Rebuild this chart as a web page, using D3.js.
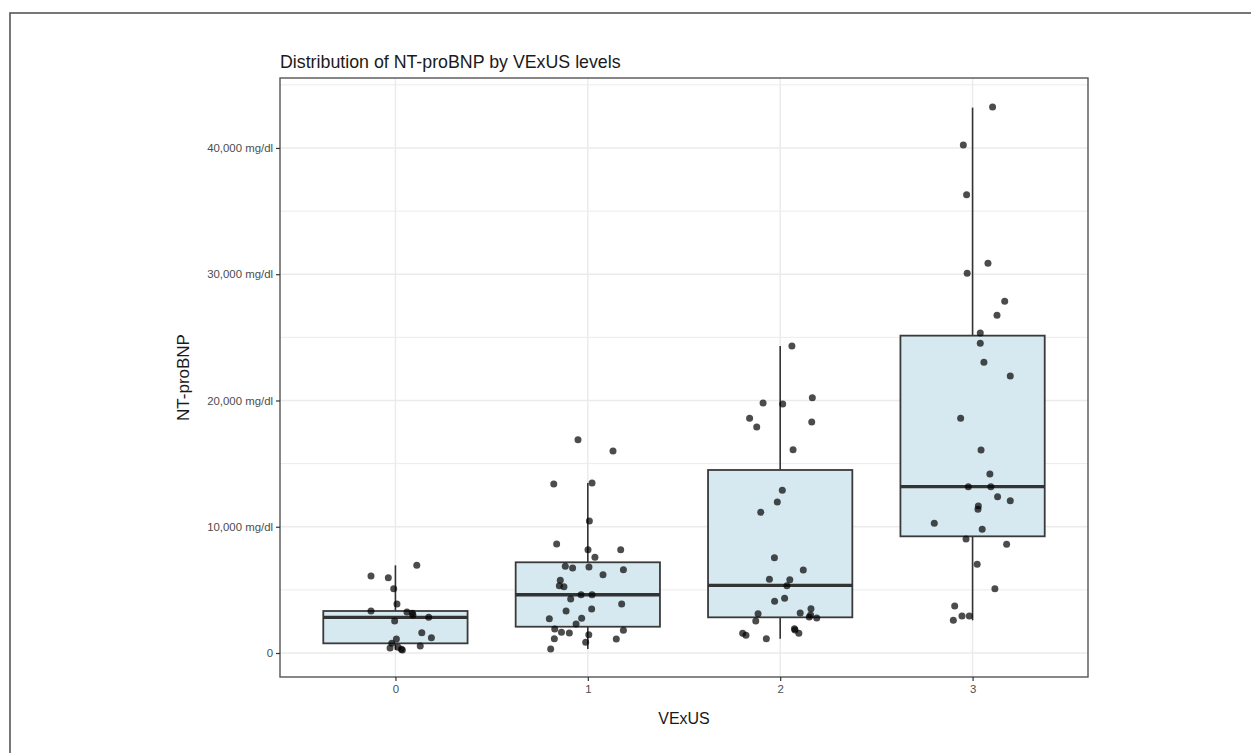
<!DOCTYPE html>
<html>
<head>
<meta charset="utf-8">
<script src="https://cdn.jsdelivr.net/npm/d3@7"></script>
<style>
  html, body { margin: 0; padding: 0; background: #ffffff; }
  svg { display: block; }
  text { font-family: "Liberation Sans", Arial, sans-serif; }
</style>
</head>
<body>
<svg id="chart" width="1251" height="753"></svg>
<script>
// ---------------- DATA ----------------
const categories = ["0", "1", "2", "3"];
const titleText = "Distribution of NT-proBNP by VExUS levels";
const xTitle = "VExUS";
const yTitle = "NT-proBNP";

const yTickValues = [0, 10000, 20000, 30000, 40000];
const yTickLabels = ["0", "10,000 mg/dl", "20,000 mg/dl", "30,000 mg/dl", "40,000 mg/dl"];
const yMinorValues = [5000, 15000, 25000, 35000, 45000];

// box statistics per category
const boxQ1 = [766, 2083, 2826, 9241];
const boxMedian = [2826, 4620, 5360, 13175];
const boxQ3 = [3327, 7184, 14495, 25135];
const whiskerLow = [238, 317, 1135, 2590];
const whiskerHigh = [6946, 13465, 24317, 43193];

// jittered observations: values and horizontal jitter (in category units)
const vexus0Values = [6946, 6099, 5966, 5095, 3881, 3327, 3248, 3144, 3010, 2826, 2535, 1610, 1214, 1109, 766, 396, 449, 290, 238, 554];
const vexus0Jitter = [0.111, -0.127, -0.037, -0.009, 0.008, -0.127, 0.060, 0.088, 0.091, 0.173, -0.004, 0.137, 0.187, 0.005, -0.019, -0.028, 0.014, 0.031, 0.036, 0.129];

const vexus1Values = [16895, 16000, 13386, 13465, 10455, 8634, 8185, 8185, 7578, 6867, 6733, 6812, 6600, 6204, 5758, 5333, 5254, 4620, 4620, 4277, 3881, 3327, 3485, 2719, 2746, 2297, 1901, 1637, 1584, 1795, 1452, 1135, 1109, 845, 317];
const vexus1Jitter = [-0.051, 0.131, -0.177, 0.022, 0.008, -0.162, 0.001, 0.171, 0.037, -0.117, -0.079, 0.006, 0.185, 0.079, -0.143, -0.148, -0.124, -0.035, 0.022, -0.089, 0.176, -0.113, 0.020, -0.200, -0.032, -0.061, -0.172, -0.137, -0.096, 0.185, 0.005, -0.174, 0.148, -0.011, -0.193];

const vexus2Values = [24317, 20222, 19802, 19723, 18590, 18297, 17901, 16103, 12887, 11960, 11144, 7548, 6574, 5834, 5808, 5333, 4330, 4095, 3511, 3116, 3168, 2851, 3010, 2772, 2535, 1558, 1400, 1927, 1822, 1558, 1135];
const vexus2Jitter = [0.061, 0.167, -0.089, 0.013, -0.159, 0.164, -0.122, 0.067, 0.011, -0.015, -0.101, -0.030, 0.120, -0.056, 0.050, 0.035, 0.023, -0.029, 0.160, -0.115, 0.104, 0.151, 0.158, 0.190, -0.127, -0.195, -0.178, 0.074, 0.077, 0.097, -0.072];

const vexus3Values = [43248, 40238, 36301, 30867, 30075, 27857, 26748, 25347, 24531, 23026, 21941, 18590, 16079, 14178, 13175, 13175, 12380, 12063, 11644, 11380, 10273, 9798, 9030, 8610, 7026, 5093, 3723, 2931, 2931, 2590];
const vexus3Jitter = [0.104, -0.048, -0.031, 0.080, -0.028, 0.167, 0.127, 0.040, 0.040, 0.059, 0.196, -0.062, 0.044, 0.090, -0.022, 0.095, 0.130, 0.196, 0.030, 0.028, -0.199, 0.050, -0.034, 0.177, 0.024, 0.116, -0.093, -0.055, -0.017, -0.100];

const groupValues = [vexus0Values, vexus1Values, vexus2Values, vexus3Values];
const groupJitter = [vexus0Jitter, vexus1Jitter, vexus2Jitter, vexus3Jitter];

// ---------------- LAYOUT ----------------
const svg = d3.select("#chart");
const panel = { left: 280, top: 78, right: 1088, bottom: 677 };

// outer frame (cut by the picture edges)
svg.append("rect")
  .attr("x", 10).attr("y", 13)
  .attr("width", 1400).attr("height", 900)
  .attr("fill", "none").attr("stroke", "#555").attr("stroke-width", 1.6);

const x = d3.scalePoint().domain(categories).range([panel.left, panel.right]).padding(0.6);
const step = x.step();
const y = d3.scaleLinear().domain([-1900, 45540]).range([panel.bottom, panel.top]);

const grid = svg.append("g");
grid.selectAll("line.minor").data(yMinorValues).join("line")
  .attr("class", "minor")
  .attr("x1", panel.left).attr("x2", panel.right)
  .attr("y1", d => y(d)).attr("y2", d => y(d))
  .attr("stroke", "#ebebeb").attr("stroke-width", 1);
grid.selectAll("line.majorY").data(yTickValues).join("line")
  .attr("class", "majorY")
  .attr("x1", panel.left).attr("x2", panel.right)
  .attr("y1", d => y(d)).attr("y2", d => y(d))
  .attr("stroke", "#ebebeb").attr("stroke-width", 1.5);
grid.selectAll("line.majorX").data(categories).join("line")
  .attr("class", "majorX")
  .attr("x1", d => x(d)).attr("x2", d => x(d))
  .attr("y1", panel.top).attr("y2", panel.bottom)
  .attr("stroke", "#ebebeb").attr("stroke-width", 1.5);

// boxplots
const boxW = step * 0.75;
const boxes = svg.append("g").selectAll("g").data(categories).join("g");
boxes.append("line")
  .attr("x1", d => x(d)).attr("x2", d => x(d))
  .attr("y1", (d, i) => y(boxQ3[i])).attr("y2", (d, i) => y(whiskerHigh[i]))
  .attr("stroke", "#333").attr("stroke-width", 1.6);
boxes.append("line")
  .attr("x1", d => x(d)).attr("x2", d => x(d))
  .attr("y1", (d, i) => y(boxQ1[i])).attr("y2", (d, i) => y(whiskerLow[i]))
  .attr("stroke", "#333").attr("stroke-width", 1.6);
boxes.append("rect")
  .attr("x", d => x(d) - boxW / 2)
  .attr("width", boxW)
  .attr("y", (d, i) => y(boxQ3[i]))
  .attr("height", (d, i) => y(boxQ1[i]) - y(boxQ3[i]))
  .attr("fill", "#d6e9f0").attr("stroke", "#3a3a3a").attr("stroke-width", 1.8);
boxes.append("line")
  .attr("x1", d => x(d) - boxW / 2).attr("x2", d => x(d) + boxW / 2)
  .attr("y1", (d, i) => y(boxMedian[i])).attr("y2", (d, i) => y(boxMedian[i]))
  .attr("stroke", "#333").attr("stroke-width", 3.4);

// jittered points
const pts = [];
categories.forEach((c, i) => {
  groupValues[i].forEach((v, j) => pts.push({ c: c, v: v, jit: groupJitter[i][j] }));
});
svg.append("g").selectAll("circle").data(pts).join("circle")
  .attr("cx", d => x(d.c) + d.jit * step)
  .attr("cy", d => y(d.v))
  .attr("r", 3.5)
  .attr("fill", "#000").attr("fill-opacity", 0.7);

// panel border
svg.append("rect")
  .attr("x", panel.left).attr("y", panel.top)
  .attr("width", panel.right - panel.left).attr("height", panel.bottom - panel.top)
  .attr("fill", "none").attr("stroke", "#555").attr("stroke-width", 1.4);

// axes
const yAxis = d3.axisLeft(y).tickValues(yTickValues)
  .tickFormat((d, i) => yTickLabels[i]).tickSize(4).tickPadding(3);
const gy = svg.append("g").attr("transform", `translate(${panel.left},0)`).call(yAxis);
gy.select(".domain").remove();
gy.selectAll(".tick line").attr("stroke", "#333").attr("stroke-width", 1.2);
gy.selectAll(".tick text").attr("fill", "#4d4d4d")
  .style("font-family", "'Liberation Sans', Arial, sans-serif").style("font-size", "11.4px");

const xAxis = d3.axisBottom(x).tickSize(4).tickPadding(4);
const gx = svg.append("g").attr("transform", `translate(0,${panel.bottom})`).call(xAxis);
gx.select(".domain").remove();
gx.selectAll(".tick line").attr("stroke", "#333").attr("stroke-width", 1.2);
gx.selectAll(".tick text").attr("fill", "#4d4d4d")
  .style("font-family", "'Liberation Sans', Arial, sans-serif").style("font-size", "11.4px");

// titles
svg.append("text")
  .attr("x", panel.left).attr("y", 68)
  .attr("fill", "#1a1a1a").style("font-size", "17.8px")
  .text(titleText);
svg.append("text")
  .attr("x", (panel.left + panel.right) / 2).attr("y", 724)
  .attr("text-anchor", "middle")
  .attr("fill", "#1a1a1a").style("font-size", "16px")
  .text(xTitle);
svg.append("text")
  .attr("transform", `translate(189,${(panel.top + panel.bottom) / 2}) rotate(-90)`)
  .attr("text-anchor", "middle")
  .attr("fill", "#1a1a1a").style("font-size", "17px")
  .text(yTitle);
</script>
</body>
</html>
